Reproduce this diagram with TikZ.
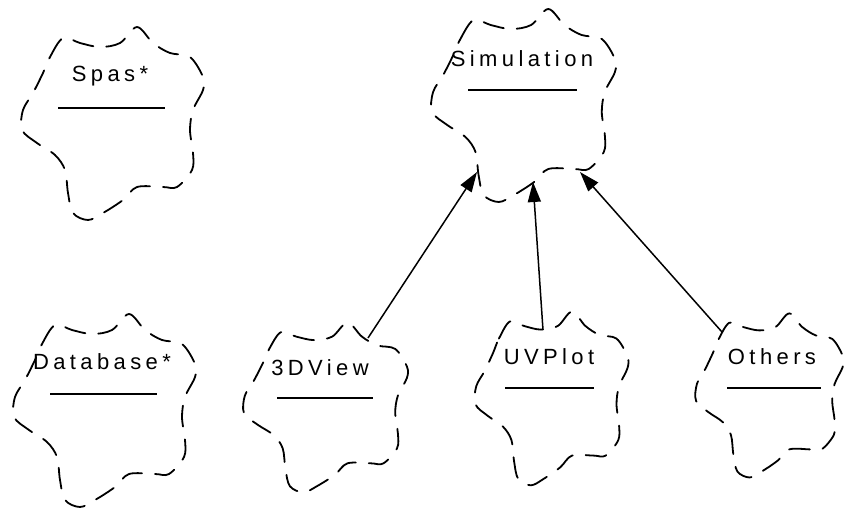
\documentclass[tikz,border=0pt]{standalone}
\usepackage{fontspec}
\setmainfont{Liberation Sans}
\newfontfamily\classfont[LetterSpace=20]{Liberation Sans}
\usetikzlibrary{arrows.meta}

\tikzset{
  cloudline/.style={draw=black, line width=1.8pt, dash pattern=on 21pt off 13pt, line cap=round},
  classname/.style={font=\classfont\fontsize{22}{24}\selectfont, inner sep=0pt, anchor=center},
  compline/.style={line width=1.6pt},
  inherit/.style={line width=1.5pt, -{Triangle[length=20pt,width=13pt]}},
}

% Booch class cloud outline, unit size (half width 91, half height 97)
\newcommand\cloudoutline{plot[smooth cycle, tension=0.55] coordinates {
  (-69,-50) (-62,-66) (-49,-85) (-32,-80) (-12,-76) (8,-80) (25,-96)
  (41,-80) (58,-70) (78,-66) (91,-46) (91,-33) (81,-13) (78,7) (81,30)
  (80,47) (65,64) (51,64) (25,64) (11,77) (-9,90) (-24,97) (-39,90)
  (-44,70) (-47,47) (-57,32) (-75,20) (-90,7) (-89,-13) (-79,-30)}}

% #1 centre, #2 xscale, #3 yscale
\newcommand\classcloud[3]{%
  \begin{scope}[shift={#1}, xscale=#2, yscale=#3]
    \draw[cloudline] \cloudoutline;
  \end{scope}}

\begin{document}
\begin{tikzpicture}[x=1pt, y=-1pt]
  \useasboundingbox (0,0) rectangle (844,507);

  % Spas*
  \classcloud{(112,123)}{1}{1}
  \node[classname] (spas) at (110,76) {Spas*};
  \draw[compline] (58,108) -- (165,108);

  % Simulation
  \classcloud{(523,105)}{1.01}{1}
  \node[classname] (simulation) at (522,59) {Simulation};
  \draw[compline] (468,90) -- (577,90);

  % Database*
  \classcloud{(104,410)}{1}{1}
  \node[classname] (database) at (102,362) {Database*};
  \draw[compline] (50,394) -- (157,394);

  % 3DView
  \classcloud{(325,407)}{0.9}{0.88}
  \node[classname] (view3d) at (320,368) {3DView};
  \draw[compline] (277,398) -- (373,398);

  % UVPlot
  \classcloud{(551,398)}{0.84}{0.9}
  \node[classname] (uvplot) at (549,357) {UVPlot};
  \draw[compline] (505,388) -- (594,388);

  % Others
  \classcloud{(769,395)}{0.81}{0.85}
  \node[classname] (others) at (772,357) {Others};
  \draw[compline] (727,388) -- (821,388);

  % connection points on the cloud outlines
  \coordinate (view3d-top) at (368,338);
  \coordinate (uvplot-top) at (543,330);
  \coordinate (others-top) at (722,332);
  \coordinate (sim-in-left) at (477,172);
  \coordinate (sim-in-mid) at (533,182);
  \coordinate (sim-in-right) at (580,172);

  % inheritance arrows
  \draw[inherit] (view3d-top) -- (sim-in-left);
  \draw[inherit] (uvplot-top) -- (sim-in-mid);
  \draw[inherit] (others-top) -- (sim-in-right);
\end{tikzpicture}
\end{document}
